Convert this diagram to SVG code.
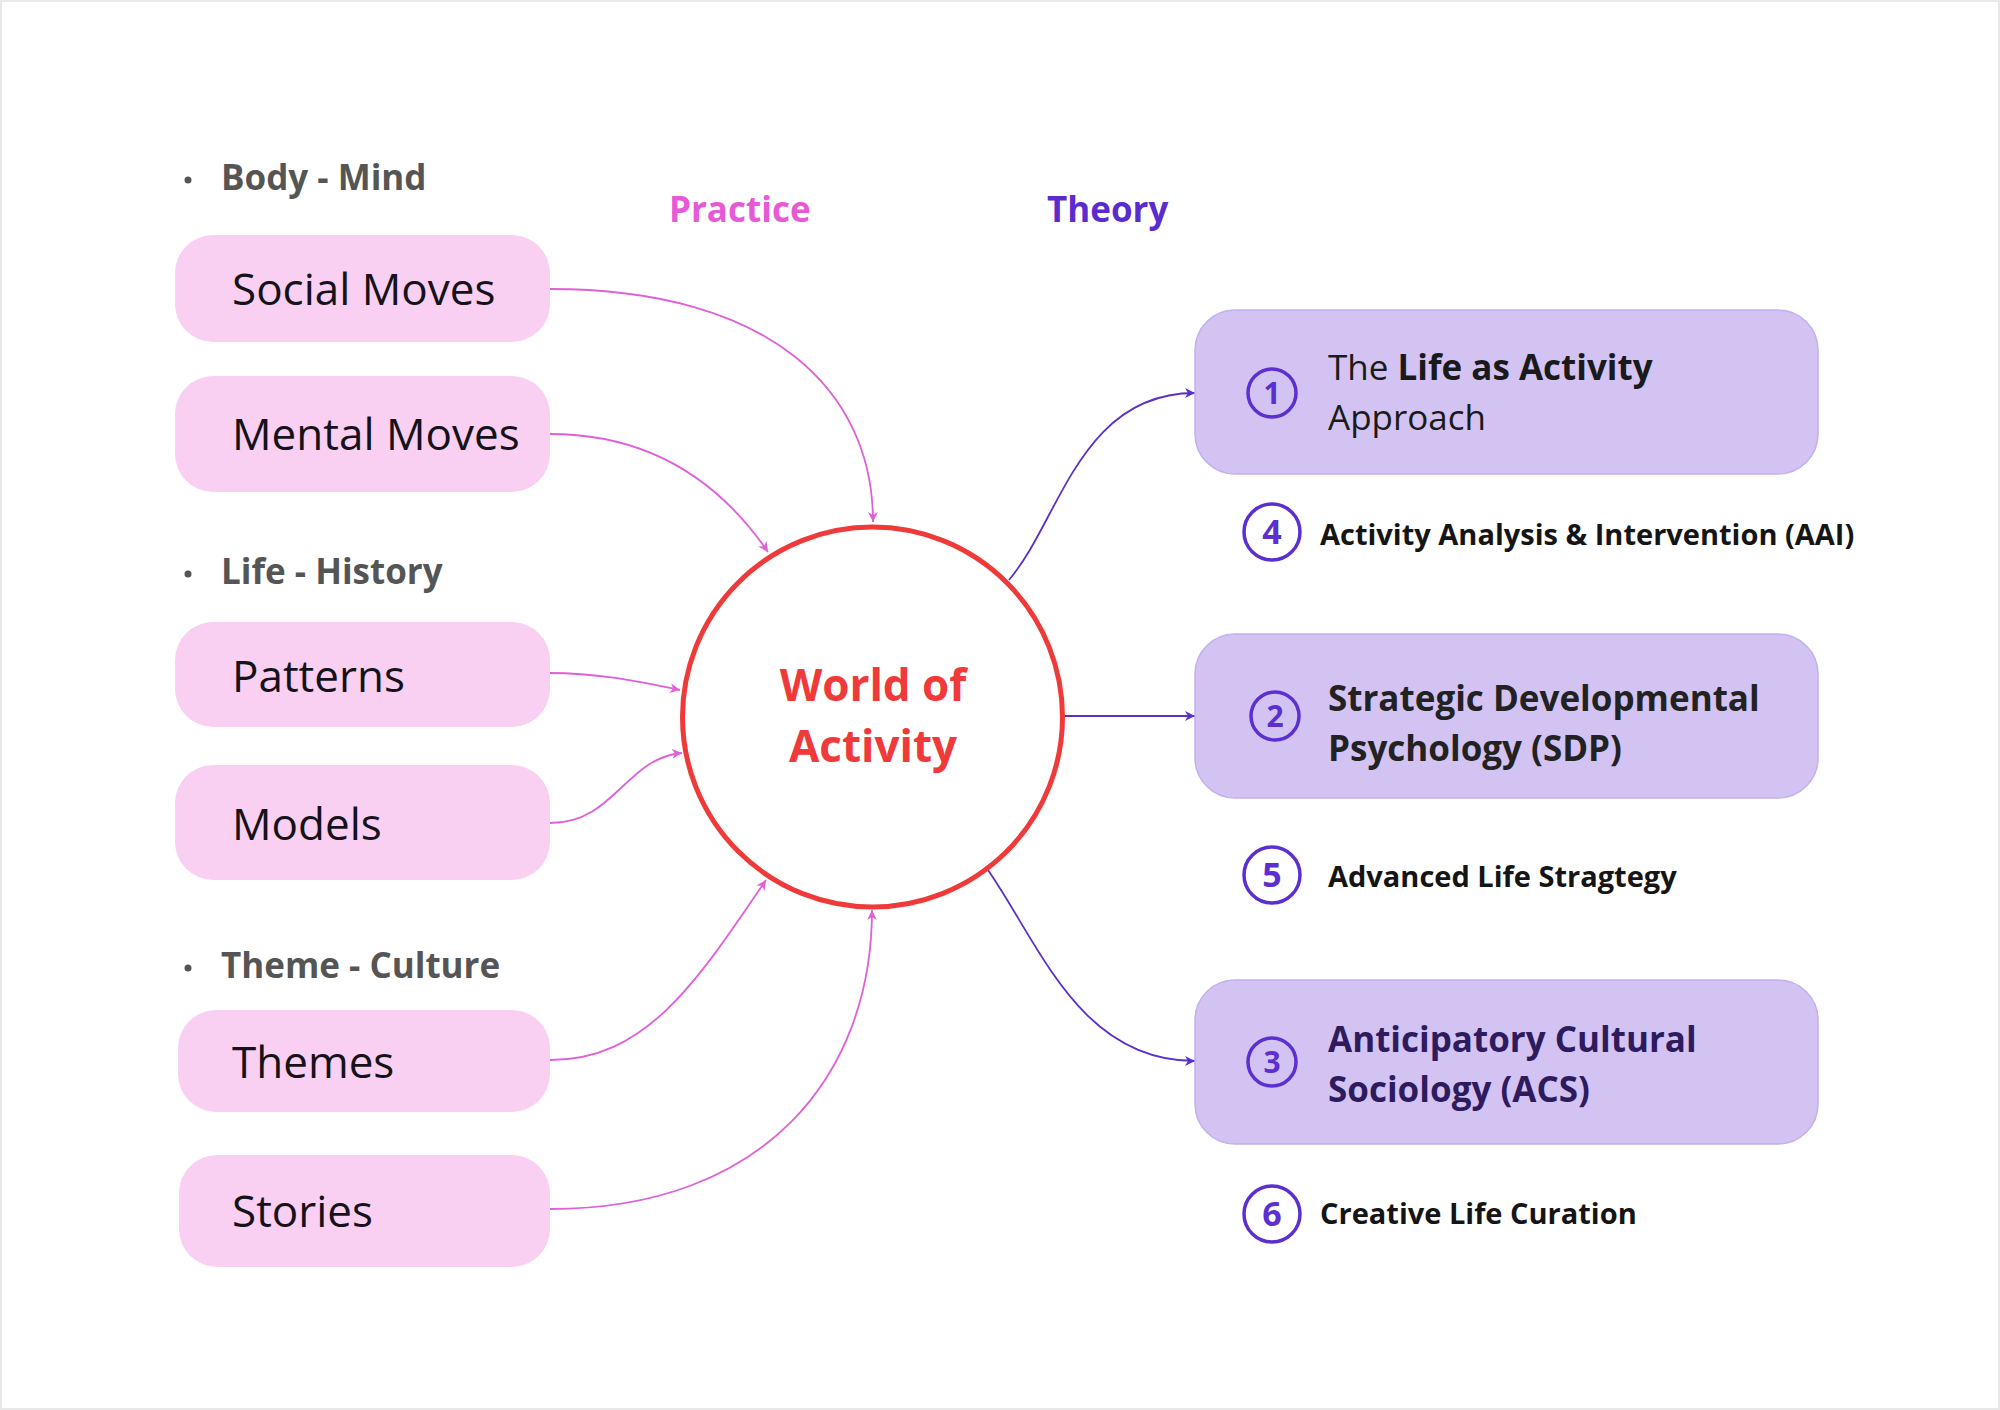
<svg xmlns="http://www.w3.org/2000/svg" width="2000" height="1410" viewBox="0 0 2000 1410">
<defs>
<style>
text{font-family:"Open Sans","Liberation Sans",sans-serif}
.head{font-size:35px;font-weight:700;fill:#555555}
.pbox{fill:#F9CFF2}
.ptxt{font-size:44px;fill:#15121a}
.tbox{fill:#D3C3F3;stroke:#C2B0EF;stroke-width:1.5}
.num{fill:none;stroke:#5B2FD0;stroke-width:3.5}
.numt{font-weight:700;fill:#5B2FD0;text-anchor:middle}
.t1{font-size:35px;fill:#1a1a1a}
.t2{font-size:35px;font-weight:700;fill:#222222}
.t3{font-size:35px;font-weight:700;fill:#2E1B5E}
.sub{font-size:29px;font-weight:700;fill:#151515}
.pc{fill:none;stroke:#E060D8;stroke-width:1.8}
.tc{fill:none;stroke:#5A2FCC;stroke-width:1.8}
</style>
<marker id="ap" viewBox="0 0 10 10" refX="10" refY="5" markerWidth="10" markerHeight="10" markerUnits="userSpaceOnUse" orient="auto">
<path d="M0,0 L10,5 L0,10 L3,5 z" fill="#E060D8"/>
</marker>
<marker id="at" viewBox="0 0 10 10" refX="10" refY="5" markerWidth="10" markerHeight="10" markerUnits="userSpaceOnUse" orient="auto">
<path d="M0,0 L10,5 L0,10 L3,5 z" fill="#5A2FCC"/>
</marker>
</defs>
<rect x="0" y="0" width="2000" height="1410" fill="#ffffff"/>
<rect x="1" y="1" width="1998" height="1408" fill="none" stroke="#e8e8e8" stroke-width="2"/>

<g id="headings">
<circle cx="188" cy="180" r="3.5" fill="#555555"/>
<text class="head" x="221" y="190">Body - Mind</text>
<circle cx="188" cy="574" r="3.5" fill="#555555"/>
<text class="head" x="221" y="584">Life - History</text>
<circle cx="188" cy="968" r="3.5" fill="#555555"/>
<text class="head" x="221" y="978">Theme - Culture</text>
<text x="669" y="222" style="font-size:35px;font-weight:700;fill:#E75AD6">Practice</text>
<text x="1047" y="222" style="font-size:35px;font-weight:700;fill:#5B2BD0">Theory</text>
</g>

<g id="connectors">
<path class="pc" d="M550,289 C770,289 873,390 873,522" marker-end="url(#ap)"/>
<path class="pc" d="M550,434 C650,434 720,482 768,552" marker-end="url(#ap)"/>
<path class="pc" d="M550,673 C600,673 640,682 680,690" marker-end="url(#ap)"/>
<path class="pc" d="M550,823 C615,823 625,758 682,753" marker-end="url(#ap)"/>
<path class="pc" d="M550,1060 C645,1060 695,985 766,880" marker-end="url(#ap)"/>
<path class="pc" d="M550,1209 C765,1209 872,1075 872,910" marker-end="url(#ap)"/>
<path class="tc" d="M1009,580 C1060,520 1080,393 1195,393" marker-end="url(#at)"/>
<path class="tc" d="M1063,716 L1195,716" marker-end="url(#at)"/>
<path class="tc" d="M988,870 C1040,945 1080,1061 1195,1061" marker-end="url(#at)"/>
</g>

<g id="center">
<circle cx="872.5" cy="717" r="190" fill="#ffffff" stroke="#F03A3A" stroke-width="5"/>
<text x="873" y="701" style="font-size:44px;font-weight:700;fill:#F03A3A;text-anchor:middle">World of</text>
<text x="873" y="762" style="font-size:44px;font-weight:700;fill:#F03A3A;text-anchor:middle">Activity</text>
</g>

<g id="social-moves"><rect class="pbox" x="175" y="235" width="375" height="107" rx="38"/><text class="ptxt" x="232" y="305">Social Moves</text></g>
<g id="mental-moves"><rect class="pbox" x="175" y="376" width="375" height="116" rx="38"/><text class="ptxt" x="232" y="450">Mental Moves</text></g>
<g id="patterns"><rect class="pbox" x="175" y="622" width="375" height="105" rx="38"/><text class="ptxt" x="232" y="692">Patterns</text></g>
<g id="models"><rect class="pbox" x="175" y="765" width="375" height="115" rx="38"/><text class="ptxt" x="232" y="840">Models</text></g>
<g id="themes"><rect class="pbox" x="178" y="1010" width="372" height="102" rx="38"/><text class="ptxt" x="232" y="1078">Themes</text></g>
<g id="stories"><rect class="pbox" x="179" y="1155" width="371" height="112" rx="38"/><text class="ptxt" x="232" y="1227">Stories</text></g>

<g id="box1">
<rect class="tbox" x="1195" y="310" width="623" height="164" rx="40"/>
<circle class="num" cx="1272" cy="393" r="24"/>
<text class="numt" x="1272" y="404" style="font-size:30px">1</text>
<text class="t1" x="1328" y="380">The <tspan font-weight="700">Life as Activity</tspan></text>
<text class="t1" x="1328" y="430">Approach</text>
</g>
<g id="item4">
<circle class="num" cx="1272" cy="532" r="28"/>
<text class="numt" x="1272" y="544" style="font-size:34px">4</text>
<text class="sub" x="1320" y="545">Activity Analysis &amp; Intervention (AAI)</text>
</g>
<g id="box2">
<rect class="tbox" x="1195" y="634" width="623" height="164" rx="40"/>
<circle class="num" cx="1275" cy="716" r="24"/>
<text class="numt" x="1275" y="727" style="font-size:30px">2</text>
<text class="t2" x="1328" y="711">Strategic Developmental</text>
<text class="t2" x="1328" y="761">Psychology (SDP)</text>
</g>
<g id="item5">
<circle class="num" cx="1272" cy="875" r="28"/>
<text class="numt" x="1272" y="887" style="font-size:34px">5</text>
<text class="sub" x="1328" y="887">Advanced Life Stragtegy</text>
</g>
<g id="box3">
<rect class="tbox" x="1195" y="980" width="623" height="164" rx="40"/>
<circle class="num" cx="1272" cy="1062" r="24"/>
<text class="numt" x="1272" y="1073" style="font-size:30px">3</text>
<text class="t3" x="1328" y="1052">Anticipatory Cultural</text>
<text class="t3" x="1328" y="1102">Sociology (ACS)</text>
</g>
<g id="item6">
<circle class="num" cx="1272" cy="1214" r="28"/>
<text class="numt" x="1272" y="1226" style="font-size:34px">6</text>
<text class="sub" x="1320" y="1224">Creative Life Curation</text>
</g>
</svg>
